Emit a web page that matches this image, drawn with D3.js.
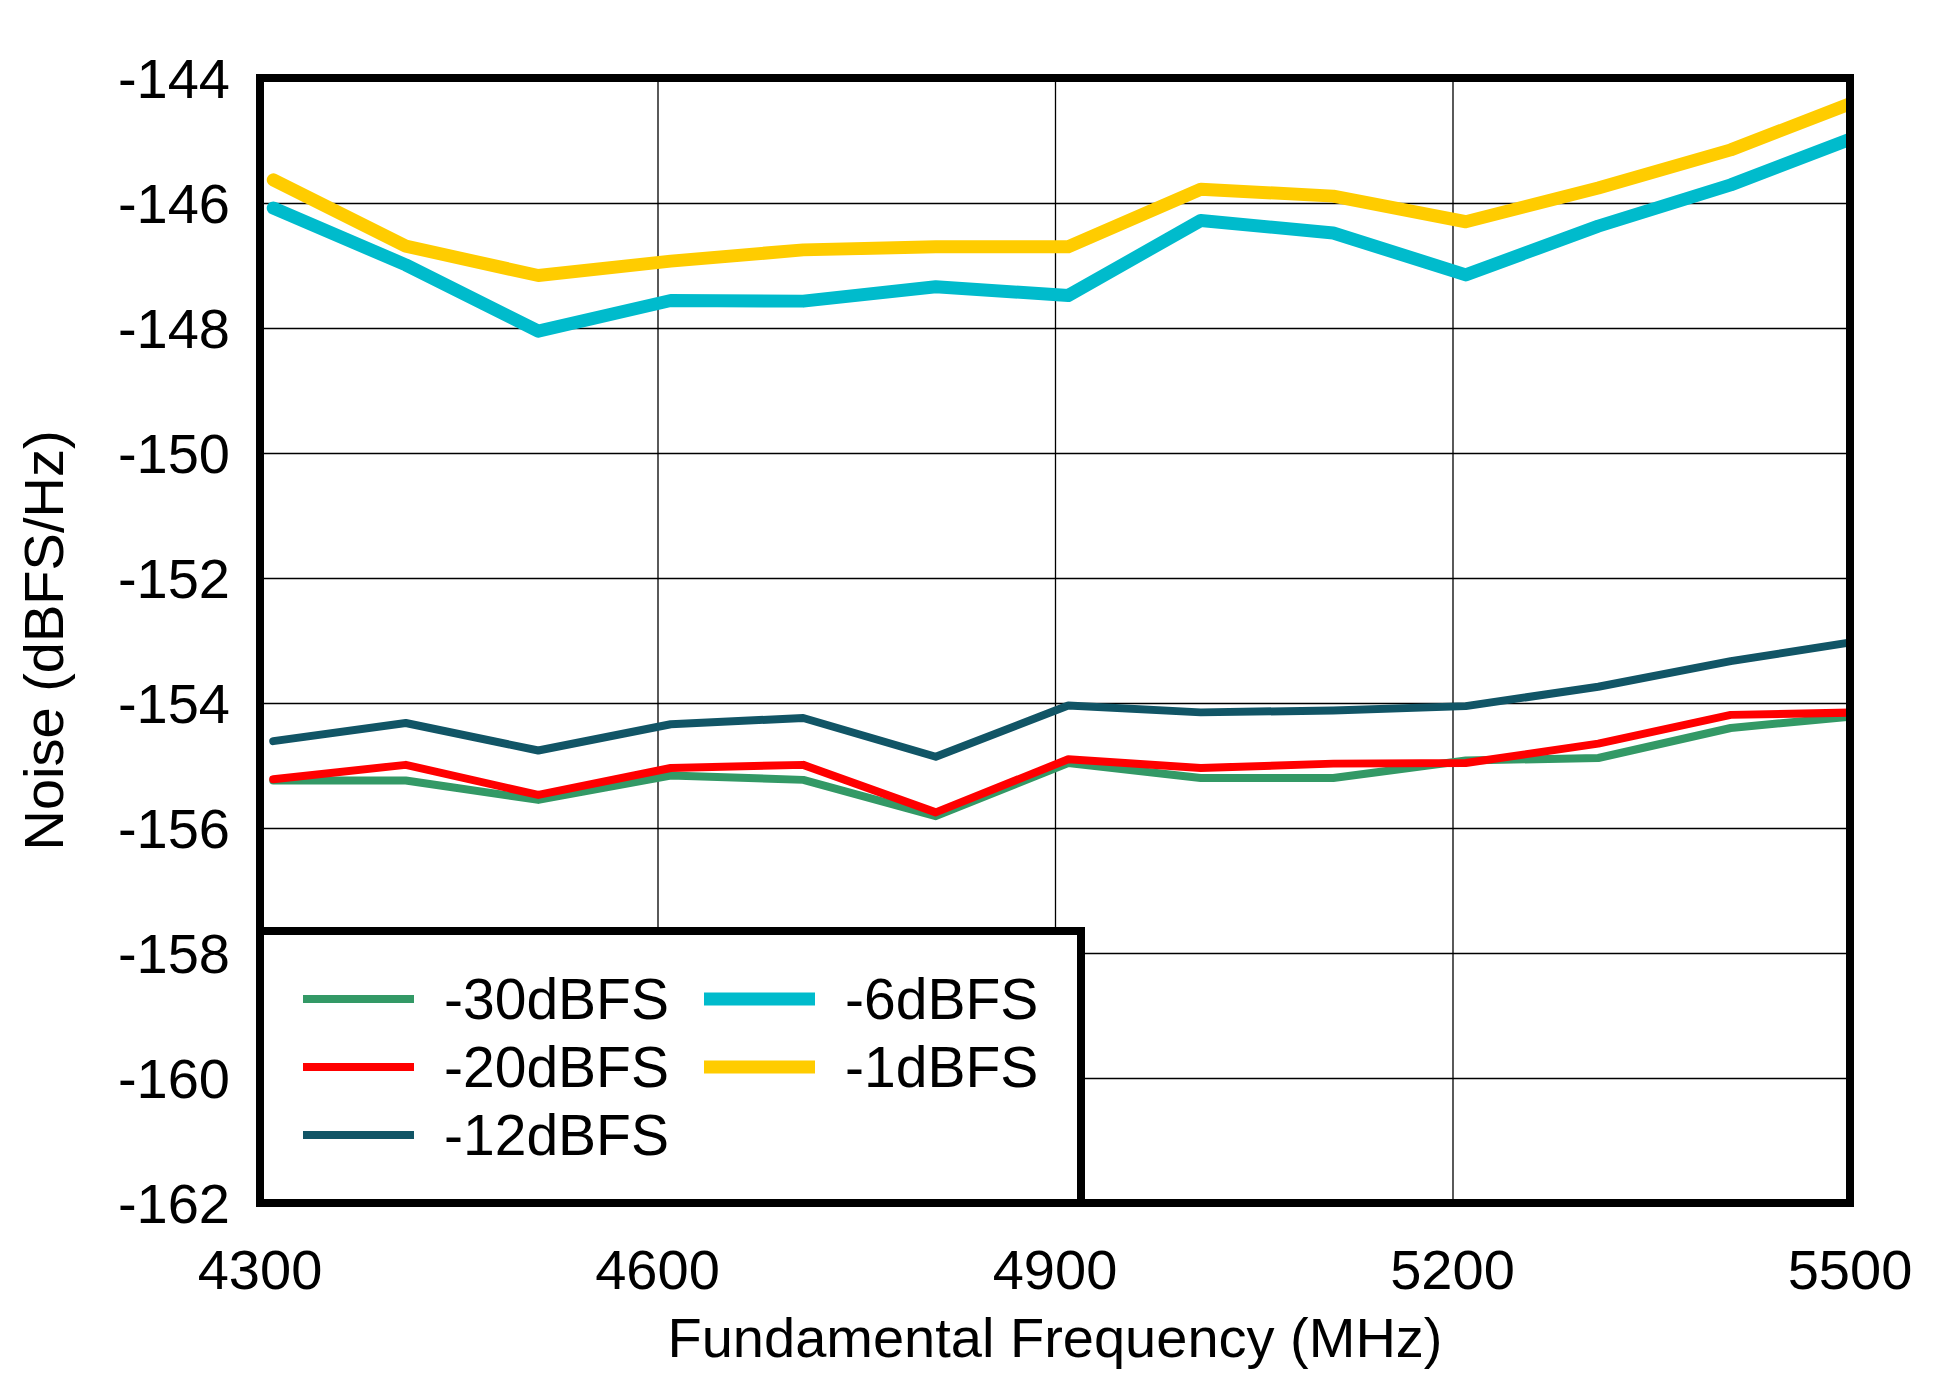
<!DOCTYPE html>
<html>
<head>
<meta charset="utf-8">
<script src="https://cdn.jsdelivr.net/npm/d3@7"></script>
<style>
  body { margin: 0; background: #fff; }
  text { font-family: "Liberation Sans", Arial, sans-serif; fill: #000; }
</style>
</head>
<body>
<div id="chart"></div>
<script>
var freq = [4310, 4410, 4510, 4610, 4710, 4810, 4910, 5010, 5110, 5210, 5310, 5410, 5510];

var n30 = [-155.24, -155.24, -155.55, -155.16, -155.23, -155.81, -154.96, -155.20, -155.20, -154.92, -154.88, -154.40, -154.20];
var n20 = [-155.22, -154.99, -155.47, -155.04, -154.99, -155.75, -154.90, -155.04, -154.97, -154.96, -154.65, -154.19, -154.15];
var n12 = [-154.61, -154.32, -154.76, -154.34, -154.24, -154.86, -154.04, -154.15, -154.12, -154.05, -153.74, -153.33, -153.00];
var n6  = [-146.08, -146.99, -148.05, -147.56, -147.57, -147.34, -147.48, -146.28, -146.48, -147.15, -146.37, -145.71, -144.90];
var n1  = [-145.63, -146.69, -147.16, -146.93, -146.75, -146.70, -146.70, -145.78, -145.89, -146.30, -145.76, -145.15, -144.33];

var seriesNames = ['-30dBFS', '-20dBFS', '-12dBFS', '-6dBFS', '-1dBFS'];
var xTicks = [4300, 4600, 4900, 5200, 5500];
var yTicks = [-144, -146, -148, -150, -152, -154, -156, -158, -160, -162];

var w = 1950,
    h = 1382;
// plot box (note: "top" is reserved on window, so p-prefixed)
var pLeft = 260, pRight = 1850, pTop = 78, pBottom = 1203;

var series = [
  { name: seriesNames[0], values: n30, color: '#339966', width: 8 },
  { name: seriesNames[1], values: n20, color: '#ff0000', width: 8 },
  { name: seriesNames[2], values: n12, color: '#115566', width: 8 },
  { name: seriesNames[3], values: n6,  color: '#00bbcc', width: 13 },
  { name: seriesNames[4], values: n1,  color: '#ffcc00', width: 13 }
];

var x = d3.scaleLinear().domain([4300, 5500]).range([pLeft, pRight]);
var y = d3.scaleLinear().domain([-162, -144]).range([pBottom, pTop]);

var vis = d3.select('#chart')
    .append('svg')
    .attr('width', w)
    .attr('height', h);

vis.append('clipPath')
    .attr('id', 'plotclip')
    .append('rect')
    .attr('x', pLeft)
    .attr('y', pTop)
    .attr('width', pRight - pLeft)
    .attr('height', pBottom - pTop);

// grid
vis.append('g')
    .attr('transform', 'translate(0,' + pBottom + ')')
    .call(d3.axisBottom(x).tickValues(xTicks).tickSize(-(pBottom - pTop)).tickFormat(''))
    .call(function(g) { g.select('.domain').remove(); })
    .selectAll('line')
    .style('stroke', '#000')
    .style('stroke-width', 1.3);

vis.append('g')
    .attr('transform', 'translate(' + pLeft + ',0)')
    .call(d3.axisLeft(y).tickValues(yTicks).tickSize(-(pRight - pLeft)).tickFormat(''))
    .call(function(g) { g.select('.domain').remove(); })
    .selectAll('line')
    .style('stroke', '#000')
    .style('stroke-width', 1.3);

// lines
var line = d3.line()
    .x(function(d, i) { return x(freq[i]); })
    .y(function(d) { return y(d); });

vis.append('g')
    .attr('clip-path', 'url(#plotclip)')
    .selectAll('path')
    .data(series)
    .enter()
    .append('path')
    .attr('d', function(d) { return line(d.values); })
    .attr('fill', 'none')
    .attr('stroke', function(d) { return d.color; })
    .attr('stroke-width', function(d) { return d.width; })
    .attr('stroke-linecap', 'round')
    .attr('stroke-linejoin', 'round');

// legend
var lgX = pLeft, lgY = 931, lgW = 1081 - pLeft, lgH = pBottom - 931;
vis.append('rect')
    .attr('x', lgX)
    .attr('y', lgY)
    .attr('width', lgW)
    .attr('height', lgH)
    .attr('fill', '#fff')
    .attr('stroke', '#000')
    .attr('stroke-width', 8);

var legendPos = [[303, 999], [303, 1067], [303, 1135], [704, 999], [704, 1067]];

var lg = vis.selectAll('.lg')
    .data(series)
    .enter()
    .append('g')
    .attr('class', 'lg')
    .attr('transform', function(d, i) { return 'translate(' + legendPos[i][0] + ',' + legendPos[i][1] + ')'; });

lg.append('line')
    .attr('x1', 0)
    .attr('x2', 111)
    .attr('y1', 0)
    .attr('y2', 0)
    .attr('stroke', function(d) { return d.color; })
    .attr('stroke-width', function(d) { return d.width; });

lg.append('text')
    .attr('x', 141)
    .attr('y', 20)
    .style('font-size', '57px')
    .text(function(d) { return d.name; });

// frame
vis.append('rect')
    .attr('x', pLeft)
    .attr('y', pTop)
    .attr('width', pRight - pLeft)
    .attr('height', pBottom - pTop)
    .attr('fill', 'none')
    .attr('stroke', '#000')
    .attr('stroke-width', 8);

// tick labels
vis.selectAll('.xlab')
    .data(xTicks)
    .enter()
    .append('text')
    .attr('x', function(d) { return x(d); })
    .attr('y', 1289)
    .attr('text-anchor', 'middle')
    .style('font-size', '56px')
    .text(function(d) { return d; });

vis.selectAll('.ylab')
    .data(yTicks)
    .enter()
    .append('text')
    .attr('x', pLeft - 30)
    .attr('y', function(d) { return y(d) + 20; })
    .attr('text-anchor', 'end')
    .style('font-size', '56px')
    .text(function(d) { return d; });

// axis titles
vis.append('text')
    .attr('x', (pLeft + pRight) / 2)
    .attr('y', 1357)
    .attr('text-anchor', 'middle')
    .style('font-size', '56px')
    .text('Fundamental Frequency (MHz)');

vis.append('text')
    .attr('transform', 'translate(63,' + (pTop + pBottom) / 2 + ') rotate(-90)')
    .attr('text-anchor', 'middle')
    .style('font-size', '56px')
    .text('Noise (dBFS/Hz)');
</script>
</body>
</html>
